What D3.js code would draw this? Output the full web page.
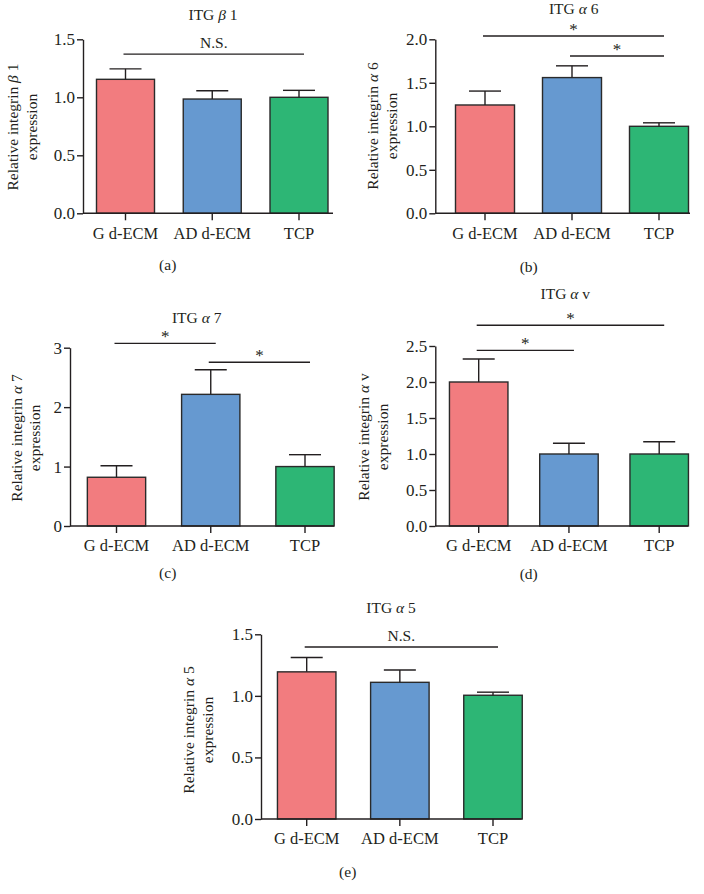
<!DOCTYPE html>
<html>
<head>
<meta charset="utf-8">
<script src="https://cdn.jsdelivr.net/npm/d3@7"></script>
<style>
html,body{margin:0;padding:0;background:#fff;}
svg{display:block;}
text{font-family:"Liberation Serif","DejaVu Serif",serif;fill:#231f20;}
</style>
</head>
<body>
<svg id="chart" width="704" height="894"></svg>
<script>
// ---- data ----
const categories = ["G d-ECM", "AD d-ECM", "TCP"];
const colors = ["#F27C7F", "#6699D0", "#2DB675"];

const beta1Mean = [1.155, 0.985, 1.0];
const beta1Err  = [0.09, 0.072, 0.06];
const beta1Ticks = [0, 0.5, 1.0, 1.5];

const alpha6Mean = [1.245, 1.56, 1.0];
const alpha6Err  = [0.16, 0.135, 0.04];
const alpha6Ticks = [0, 0.5, 1.0, 1.5, 2.0];

const alpha7Mean = [0.82, 2.215, 1.0];
const alpha7Err  = [0.195, 0.415, 0.2];
const alpha7Ticks = [0, 1, 2, 3];

const alphaVMean = [2.0, 1.0, 1.0];
const alphaVErr  = [0.32, 0.15, 0.17];
const alphaVTicks = [0, 0.5, 1.0, 1.5, 2.0, 2.5];

const alpha5Mean = [1.195, 1.11, 1.005];
const alpha5Err  = [0.117, 0.1, 0.025];
const alpha5Ticks = [0, 0.5, 1.0, 1.5];

// significance brackets: [fromIndex, toIndex, level(value units), label]
const beta1Sig  = [[0, 2, 1.373, "N.S."]];
const alpha6Sig = [[0, 2, 2.038, "*"], [1, 2, 1.808, "*"]];
const alpha7Sig = [[0, 1, 3.074, "*"], [1, 2, 2.755, "*"]];
const alphaVSig = [[0, 2, 2.788, "*"], [0, 1, 2.44, "*"]];
const alpha5Sig = [[0, 2, 1.397, "N.S."]];

// ---- layout ----
const panels = [
  {greek:"β", sub:"1", mean:beta1Mean, err:beta1Err, ticks:beta1Ticks, sig:beta1Sig, fmt:".1f", tag:"(a)",
   L:{left:83, top:39.3, bottom:213.3, c0:125.5, c2:299, bw:58, right:333, titleX:213, titleY:20,
      yl1:13, yl2:32, ylY:127, xlabY:239, capX:167.7, capY:270}},
  {greek:"α", sub:"6", mean:alpha6Mean, err:alpha6Err, ticks:alpha6Ticks, sig:alpha6Sig, fmt:".1f", tag:"(b)",
   L:{left:435.3, top:39.3, bottom:213.3, c0:485, c2:659, bw:59, right:690, titleX:573.7, titleY:13.5,
      yl1:372.7, yl2:391.3, ylY:126, xlabY:239, capX:528.7, capY:271.7}},
  {greek:"α", sub:"7", mean:alpha7Mean, err:alpha7Err, ticks:alpha7Ticks, sig:alpha7Sig, fmt:"d", tag:"(c)",
   L:{left:70, top:347.7, bottom:526, c0:116.5, c2:305, bw:58.3, right:334, titleX:196.7, titleY:323.3,
      yl1:16.7, yl2:35, ylY:438, xlabY:551, capX:167.7, capY:578.3}},
  {greek:"α", sub:"v", mean:alphaVMean, err:alphaVErr, ticks:alphaVTicks, sig:alphaVSig, fmt:".1f", tag:"(d)",
   L:{left:435.3, top:346, bottom:526, c0:478.7, c2:659.2, bw:58.5, right:688, titleX:565.3, titleY:299,
      yl1:363.7, yl2:382.7, ylY:437, xlabY:551, capX:528.7, capY:579.3}},
  {greek:"α", sub:"5", mean:alpha5Mean, err:alpha5Err, ticks:alpha5Ticks, sig:alpha5Sig, fmt:".1f", tag:"(e)",
   L:{left:261, top:634.3, bottom:819, c0:306.7, c2:493, bw:58.5, right:521.7, titleX:391, titleY:612.7,
      yl1:188.3, yl2:207.3, ylY:730, xlabY:844, capX:347.7, capY:877.3}}
];

const svg = d3.select("#chart");
const ink = "#231f20";
const serif = "'Liberation Serif', 'DejaVu Serif', serif";

panels.forEach(p => {
  const L = p.L;
  const g = svg.append("g");
  const ymax = p.ticks[p.ticks.length - 1];
  const y = d3.scaleLinear().domain([0, ymax]).range([L.bottom, L.top]);
  const x = d3.scalePoint().domain(categories).range([L.c0, L.c2]);
  const capW = 32;

  // bars
  g.selectAll("rect.bar").data(p.mean).join("rect")
    .attr("x", (d, i) => x(categories[i]) - L.bw / 2)
    .attr("y", d => y(d))
    .attr("width", L.bw)
    .attr("height", d => y(0) - y(d))
    .attr("fill", (d, i) => colors[i])
    .attr("stroke", "#2a2a2a").attr("stroke-width", 1.4);

  // error bars (upper only)
  p.mean.forEach((m, i) => {
    const cx = x(categories[i]);
    g.append("line").attr("x1", cx).attr("x2", cx)
      .attr("y1", y(m)).attr("y2", y(m + p.err[i]))
      .attr("stroke", ink).attr("stroke-width", 1.4);
    g.append("line").attr("x1", cx - capW / 2).attr("x2", cx + capW / 2)
      .attr("y1", y(m + p.err[i])).attr("y2", y(m + p.err[i]))
      .attr("stroke", ink).attr("stroke-width", 1.4);
  });

  // y axis
  const yAxis = d3.axisLeft(y).tickValues(p.ticks).tickSize(6).tickSizeOuter(0)
    .tickFormat(d3.format(p.fmt));
  const ya = g.append("g").attr("transform", `translate(${L.left},0)`).call(yAxis)
    .attr("font-family", serif);
  ya.select(".domain").attr("stroke", ink).attr("stroke-width", 1.4);
  ya.selectAll(".tick line").attr("stroke", ink).attr("stroke-width", 1.4);
  ya.selectAll(".tick text").attr("font-size", 17)
    .attr("font-family", serif).attr("fill", ink).attr("x", -8);

  // x axis
  g.append("line").attr("x1", L.left).attr("x2", L.right)
    .attr("y1", L.bottom).attr("y2", L.bottom)
    .attr("stroke", ink).attr("stroke-width", 1.4);
  categories.forEach(c => {
    g.append("line").attr("x1", x(c)).attr("x2", x(c))
      .attr("y1", L.bottom).attr("y2", L.bottom + 7)
      .attr("stroke", ink).attr("stroke-width", 1.4);
    g.append("text").attr("x", x(c)).attr("y", L.xlabY)
      .attr("text-anchor", "middle").attr("font-size", 16.5).text(c);
  });

  // title
  const t = g.append("text").attr("x", L.titleX).attr("y", L.titleY)
    .attr("text-anchor", "middle").attr("font-size", 15.5);
  t.append("tspan").text("ITG ");
  t.append("tspan").attr("font-style", "italic").text(p.greek);
  t.append("tspan").text(" " + p.sub);

  // y label
  const yl = g.append("text").attr("transform", `translate(${L.yl1},${L.ylY}) rotate(-90)`)
    .attr("text-anchor", "middle").attr("dy", "0.35em").attr("font-size", 15.5);
  yl.append("tspan").text("Relative integrin ");
  yl.append("tspan").attr("font-style", "italic").text(p.greek);
  yl.append("tspan").text(" " + p.sub);
  g.append("text").attr("transform", `translate(${L.yl2},${L.ylY}) rotate(-90)`)
    .attr("text-anchor", "middle").attr("dy", "0.35em").attr("font-size", 15.5).text("expression");

  // significance brackets
  p.sig.forEach(s => {
    const x1 = x(categories[s[0]]) - 2, x2 = x(categories[s[1]]) + 5;
    const yy = y(s[2]);
    g.append("line").attr("x1", x1).attr("x2", x2).attr("y1", yy).attr("y2", yy)
      .attr("stroke", ink).attr("stroke-width", 1.3);
    const isStar = s[3] === "*";
    g.append("text").attr("x", (x1 + x2) / 2).attr("y", isStar ? yy - 1 : yy - 6)
      .attr("text-anchor", "middle").attr("font-size", isStar ? 17 : 15.5).text(s[3]);
  });

  // panel tag
  g.append("text").attr("x", L.capX).attr("y", L.capY)
    .attr("text-anchor", "middle").attr("font-size", 15.5).text(p.tag);
});
</script>
</body>
</html>
